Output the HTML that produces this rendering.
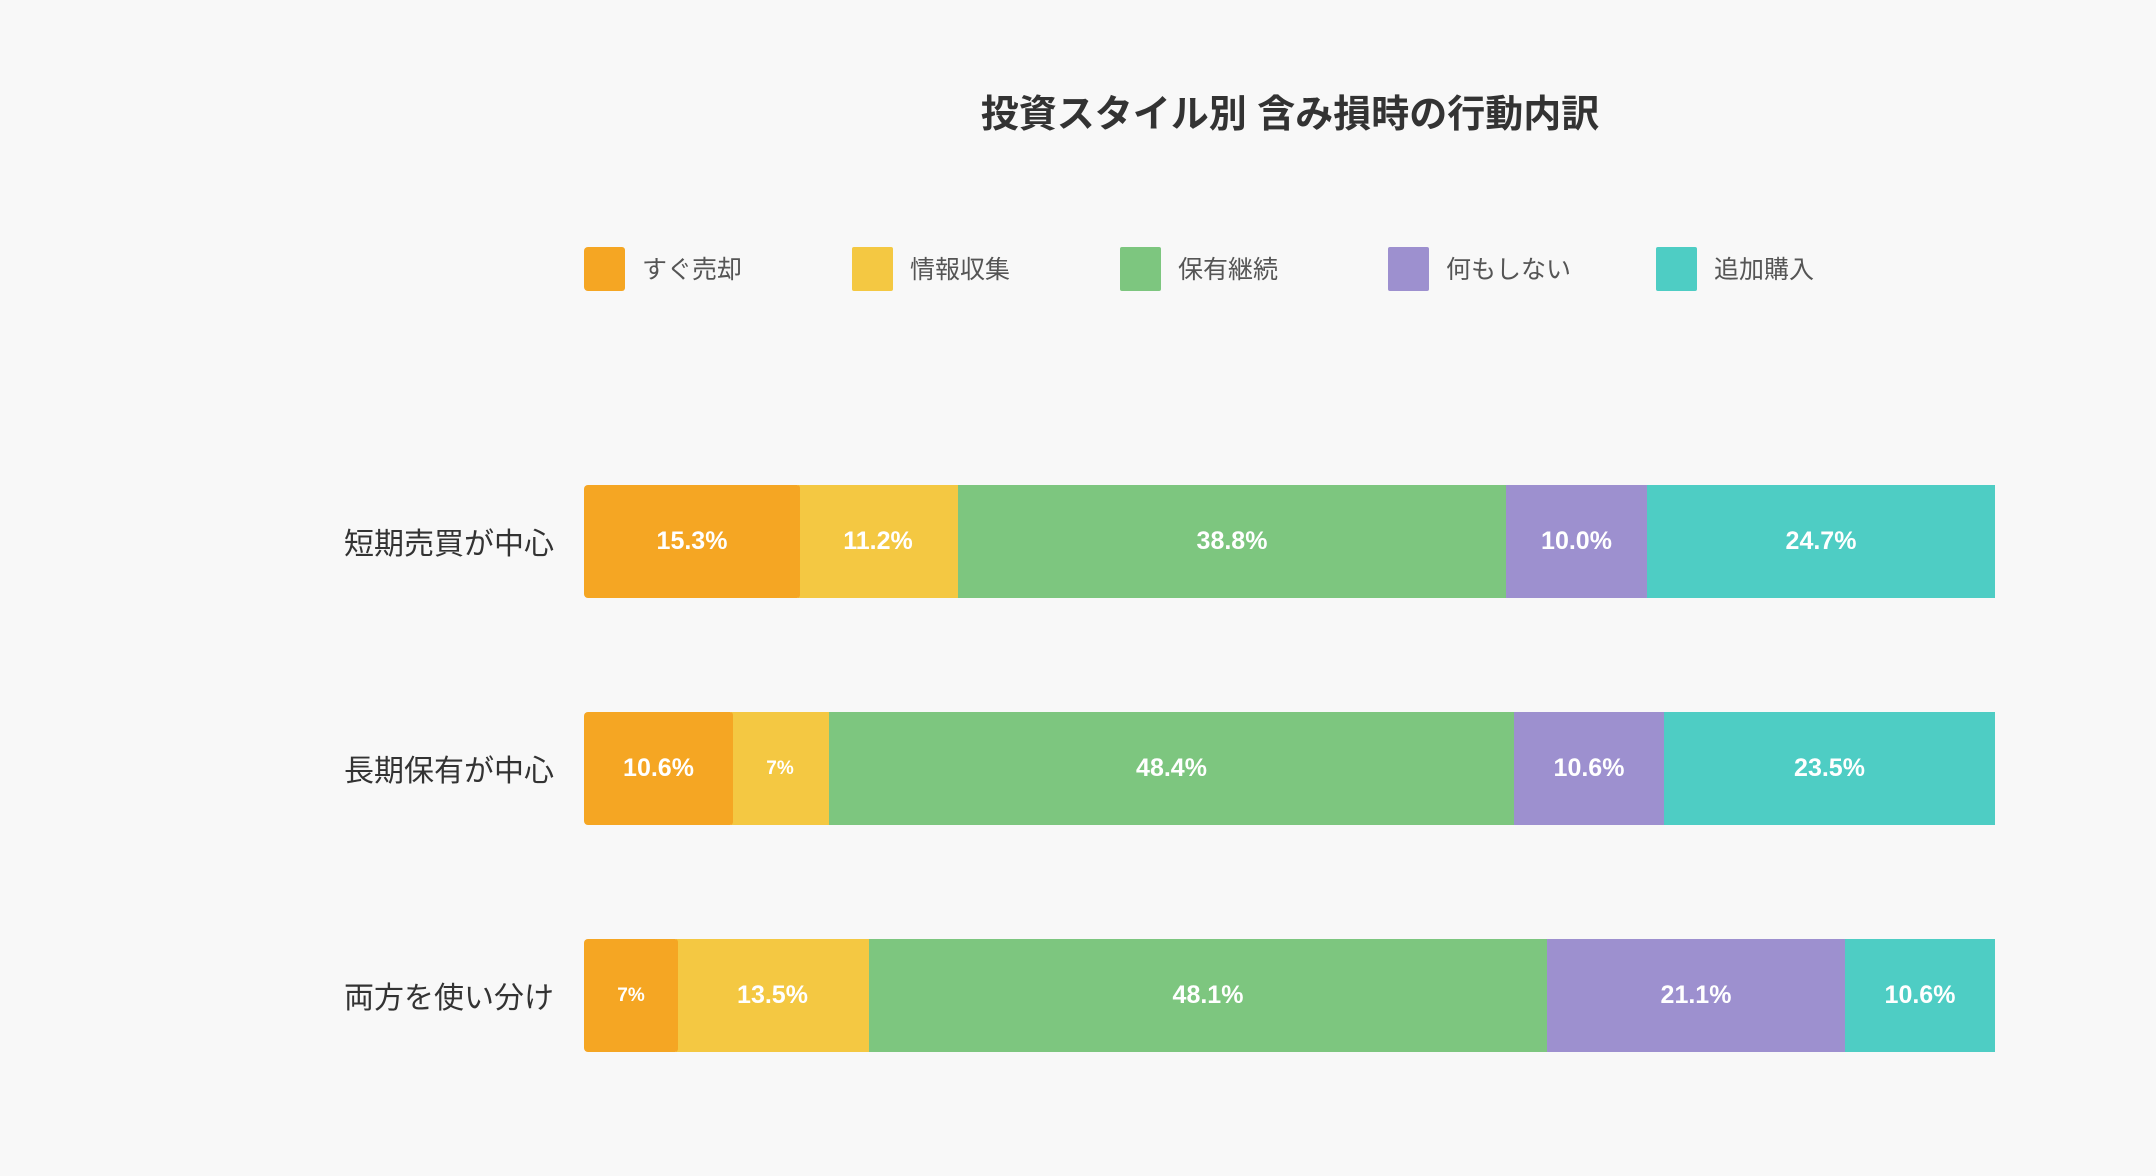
<!DOCTYPE html>
<html><head><meta charset="utf-8"><style>
body{margin:0;width:2156px;height:1176px;background:#f8f8f8;font-family:"Liberation Sans","Noto Sans CJK JP",sans-serif;position:relative;overflow:hidden}
.t{position:absolute;left:0;width:2580px;text-align:center;top:83px;font-size:38px;font-weight:bold;color:#333}
.lg{position:absolute;top:247px;width:41px;height:44px;border-radius:2px}
.lt{position:absolute;top:250px;font-size:25px;color:#555}
.cl{position:absolute;right:1602px;font-size:30px;color:#333;white-space:nowrap}
.s{position:absolute;height:113px;color:#fff;font-weight:bold;font-size:25px;display:flex;align-items:center;justify-content:center}
.o{background:#f5a623;border-radius:4px 3px 3px 4px}.y{background:#f4c842}.g{background:#7dc67f}.p{background:#9d90cf}.c{background:#4ecdc4}
.sm{font-size:19px}
</style></head><body>
<div class="t">投資スタイル別 含み損時の行動内訳</div>
<div class="lg o" style="left:584px"></div><div class="lt" style="left:642px">すぐ売却</div>
<div class="lg y" style="left:852px"></div><div class="lt" style="left:910px">情報収集</div>
<div class="lg g" style="left:1120px"></div><div class="lt" style="left:1178px">保有継続</div>
<div class="lg p" style="left:1388px"></div><div class="lt" style="left:1446px">何もしない</div>
<div class="lg c" style="left:1656px"></div><div class="lt" style="left:1714px">追加購入</div>

<div class="cl" style="top:519px">短期売買が中心</div>
<div class="s y" style="left:798px;width:160px;top:485px">11.2%</div>
<div class="s o" style="left:584px;width:216px;top:485px">15.3%</div>
<div class="s g" style="left:958px;width:548px;top:485px">38.8%</div>
<div class="s p" style="left:1506px;width:141px;top:485px">10.0%</div>
<div class="s c" style="left:1647px;width:348px;top:485px">24.7%</div>

<div class="cl" style="top:746px">長期保有が中心</div>
<div class="s y sm" style="left:731px;width:98px;top:712px">7%</div>
<div class="s o" style="left:584px;width:149px;top:712px">10.6%</div>
<div class="s g" style="left:829px;width:685px;top:712px">48.4%</div>
<div class="s p" style="left:1514px;width:150px;top:712px">10.6%</div>
<div class="s c" style="left:1664px;width:331px;top:712px">23.5%</div>

<div class="cl" style="top:973px">両方を使い分け</div>
<div class="s y" style="left:676px;width:193px;top:939px">13.5%</div>
<div class="s o sm" style="left:584px;width:94px;top:939px">7%</div>
<div class="s g" style="left:869px;width:678px;top:939px">48.1%</div>
<div class="s p" style="left:1547px;width:298px;top:939px">21.1%</div>
<div class="s c" style="left:1845px;width:150px;top:939px">10.6%</div>
</body></html>
